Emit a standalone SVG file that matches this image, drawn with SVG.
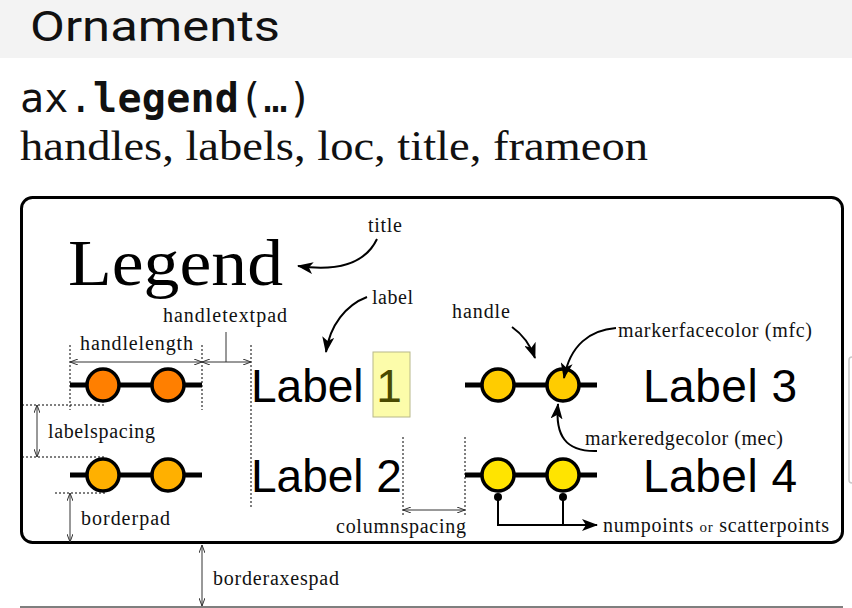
<svg xmlns="http://www.w3.org/2000/svg" width="852" height="608" viewBox="0 0 852 608">
<style>
.ann{font-family:"Liberation Serif","Times New Roman",serif;font-size:20px;fill:#111}
.lab{font-family:"Liberation Sans",Arial,sans-serif;font-size:46px;fill:#000}
.dash{stroke:#000;stroke-width:1;stroke-dasharray:2,2;fill:none}
.dim{stroke:#333;stroke-width:1;fill:none;marker-start:url(#da);marker-end:url(#da)}
.arr{stroke:#000;stroke-width:2;fill:none;marker-end:url(#ah)}
.hl{stroke:#000;stroke-width:5}
.mk{stroke:#000;stroke-width:3.5}
</style>
<defs>
<marker id="ah" markerWidth="16" markerHeight="12" refX="15" refY="6" orient="auto" markerUnits="userSpaceOnUse"><path d="M0,0 L16,6 L0,12 L4,6 z" fill="#000"/></marker>
<marker id="da" markerWidth="8" markerHeight="6" refX="8" refY="3" orient="auto-start-reverse" markerUnits="userSpaceOnUse"><path d="M0,0 L8,3 L0,6" fill="none" stroke="#333" stroke-width="1"/></marker>
</defs>
<rect width="852" height="608" fill="#fff"/>
<g id="header">
<rect x="0" y="0" width="852" height="58" fill="#f3f3f3"/>
<text x="30" y="41" font-family="Roboto,'Liberation Sans',sans-serif" font-size="42" textLength="250" lengthAdjust="spacingAndGlyphs" fill="#111">Ornaments</text>
<text x="20" y="112" font-family="'DejaVu Sans Mono','Liberation Mono',monospace" font-size="40" fill="#111" textLength="292" lengthAdjust="spacing"><tspan font-weight="normal">ax.</tspan><tspan font-weight="bold">legend</tspan>(…)</text>
<text x="20" y="160" font-family="'Liberation Serif','Times New Roman',serif" font-size="42" textLength="628" lengthAdjust="spacingAndGlyphs" fill="#111">handles, labels, loc, title, frameon</text>
</g>
<g id="legend-frame">
<rect x="21.5" y="197.5" width="821" height="345" rx="11" fill="none" stroke="#000" stroke-width="3"/>
<text x="68" y="285" font-family="'Liberation Serif','Times New Roman',serif" font-size="66" textLength="215" lengthAdjust="spacingAndGlyphs" fill="#000">Legend</text>
</g>
<g id="axis">
<line x1="20" y1="607" x2="843" y2="607" stroke="#555" stroke-width="1.5"/>
<rect x="849" y="357" width="6" height="126" rx="3" fill="none" stroke="#c8c8c8" stroke-width="1.5"/>
</g>
<g id="entry1">
<line class="hl" x1="70" y1="385" x2="202" y2="385"/>
<circle class="mk" cx="103" cy="385" r="16" fill="#ff7f00"/>
<circle class="mk" cx="168" cy="385" r="16" fill="#ff7f00"/>
<rect x="373" y="352" width="37" height="65" fill="#fcfcaa" stroke="#b8b88a" stroke-width="1"/>
<text class="lab" x="251" y="402">Label <tspan fill="#4a4a00">1</tspan></text>
</g>
<g id="entry2">
<line class="hl" x1="70" y1="475" x2="202" y2="475"/>
<circle class="mk" cx="103" cy="475" r="16" fill="#ffb000"/>
<circle class="mk" cx="168" cy="475" r="16" fill="#ffb000"/>
<text class="lab" x="251" y="492">Label 2</text>
</g>
<g id="entry3">
<line class="hl" x1="465" y1="385" x2="597" y2="385"/>
<circle class="mk" cx="498" cy="385" r="16" fill="#ffcc00"/>
<circle class="mk" cx="563" cy="385" r="16" fill="#ffcc00"/>
<text class="lab" x="643" y="402" textLength="154" lengthAdjust="spacing">Label 3</text>
</g>
<g id="entry4">
<line class="hl" x1="465" y1="475" x2="597" y2="475"/>
<circle class="mk" cx="498" cy="475" r="16" fill="#ffe400"/>
<circle class="mk" cx="563" cy="475" r="16" fill="#ffe400"/>
<text class="lab" x="643" y="492" textLength="154" lengthAdjust="spacing">Label 4</text>
</g>
<g id="annotations">
<text class="ann" x="368" y="232" textLength="34" lengthAdjust="spacing">title</text>
<text class="ann" x="372" y="304" textLength="41" lengthAdjust="spacing">label</text>
<text class="ann" x="163" y="322" textLength="124" lengthAdjust="spacing">handletextpad</text>
<text class="ann" x="80" y="350" textLength="113" lengthAdjust="spacing">handlelength</text>
<text class="ann" x="452" y="318" textLength="58" lengthAdjust="spacing">handle</text>
<text class="ann" x="618" y="337" textLength="194" lengthAdjust="spacing">markerfacecolor (mfc)</text>
<text class="ann" x="48" y="438" textLength="107" lengthAdjust="spacing">labelspacing</text>
<text class="ann" x="585" y="445" textLength="198" lengthAdjust="spacing">markeredgecolor (mec)</text>
<text class="ann" x="81" y="525" textLength="89" lengthAdjust="spacing">borderpad</text>
<text class="ann" x="336" y="533" textLength="130" lengthAdjust="spacing">columnspacing</text>
<text class="ann" x="603" y="532" textLength="226" lengthAdjust="spacing">numpoints <tspan font-size="15">or</tspan> scatterpoints</text>
<text class="ann" x="213" y="585" textLength="126" lengthAdjust="spacing">borderaxespad</text>
</g>
<g id="connectors">
<line class="dash" x1="70" y1="345" x2="70" y2="410"/>
<line class="dash" x1="202" y1="345" x2="202" y2="410"/>
<line class="dash" x1="251" y1="345" x2="251" y2="508"/>
<line class="dash" x1="22" y1="405" x2="105" y2="405"/>
<line class="dash" x1="22" y1="457" x2="105" y2="457"/>
<line class="dash" x1="55" y1="493" x2="105" y2="493"/>
<line class="dash" x1="403" y1="437" x2="403" y2="515"/>
<line class="dash" x1="465" y1="437" x2="465" y2="515"/>
<line class="dim" x1="70" y1="362" x2="202" y2="362"/>
<line class="dim" x1="202" y1="362" x2="251" y2="362"/>
<line x1="226" y1="332" x2="226" y2="362" stroke="#333" stroke-width="1"/>
<line class="dim" x1="37" y1="405" x2="37" y2="457"/>
<line class="dim" x1="70" y1="493" x2="70" y2="542"/>
<line class="dim" x1="403" y1="510" x2="465" y2="510"/>
<line class="dim" x1="202" y1="545" x2="202" y2="606" stroke="#444"/>
<path class="arr" d="M377,239 C366,262 340,272 298,266"/>
<path class="arr" d="M367,297 C346,305 330,325 326,352"/>
<path class="arr" d="M512,327 C522,334 530,344 535,358"/>
<path class="arr" d="M616,328 C590,330 570,345 564,378"/>
<path class="arr" d="M597,451 C565,452 555,435 558,404"/>
<g stroke="#000" stroke-width="2" fill="none">
<line x1="498" y1="497" x2="498" y2="525"/>
<line x1="563" y1="497" x2="563" y2="525"/>
<line x1="497" y1="525" x2="597" y2="525" marker-end="url(#ah)"/>
</g>
<circle cx="498" cy="497" r="4" fill="#000"/>
<circle cx="563" cy="497" r="4" fill="#000"/>
</g>
</svg>
